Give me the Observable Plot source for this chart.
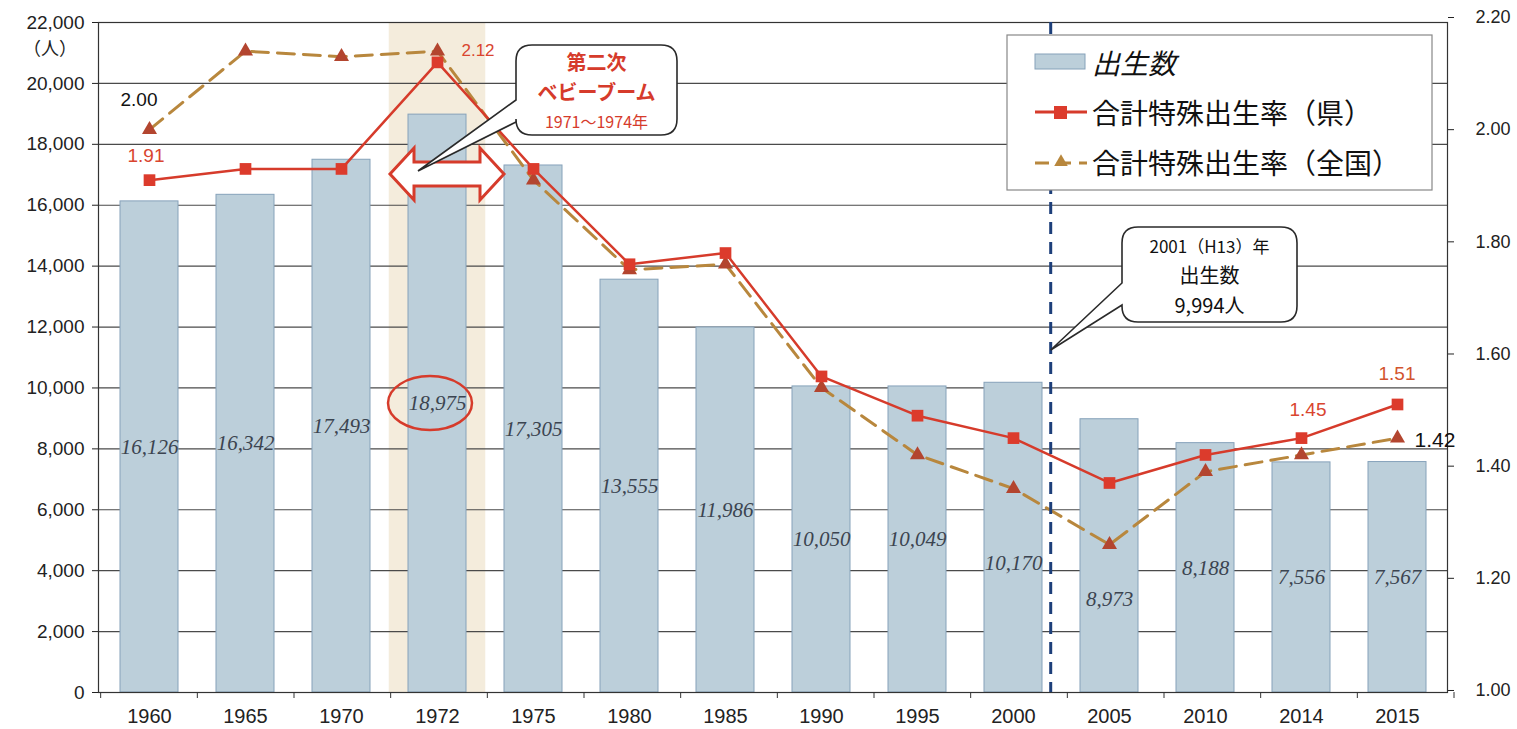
<!DOCTYPE html>
<html><head><meta charset="utf-8">
<script src="https://cdn.jsdelivr.net/npm/d3@7"></script>
<script src="https://cdn.jsdelivr.net/npm/@observablehq/plot@0.6"></script>
<style>
body{margin:0;background:#fff;}
#wrap{position:relative;width:1517px;height:729px;}
</style></head><body><div id="wrap"></div>
<script>
// ---- data ----
const years = ["1960","1965","1970","1972","1975","1980","1985","1990","1995","2000","2005","2010","2014","2015"];
const births = [16126,16342,17493,18975,17305,13555,11986,10050,10049,10170,8973,8188,7556,7567];
const ratePref = [1.91,1.93,1.93,2.12,1.93,1.76,1.78,1.56,1.49,1.45,1.37,1.42,1.45,1.51];
const rateNation = [2.00,2.14,2.13,2.14,1.91,1.75,1.76,1.54,1.42,1.36,1.26,1.39,1.42,1.45];
const leftTicks = [0,2000,4000,6000,8000,10000,12000,14000,16000,18000,20000,22000];
const rightTicks = [1.00,1.20,1.40,1.60,1.80,2.00,2.20];
const legendLabels = ["出生数","合計特殊出生率（県）","合計特殊出生率（全国）"];
const boomLines = ["第二次","ベビーブーム","1971〜1974年"];
const note2001 = ["2001（H13）年","出生数","9,994人"];

// ---- layout ----
const W = 1517, H = 729, mL = 98, mR = 70, mT = 22, mB = 37;
const R0 = 1.0, R1 = 2.2, YMAX = 22000;
// right (rate) axis sits slightly offset from the left axis in the original
const RB = 66, RS = 22098;
const toY = r => RB + (r - R0) / (R1 - R0) * RS;
const fromY = v => (v - RB) / RS * (R1 - R0) + R0;
const step = (W - mL - mR) / years.length;

const data = years.map((y, i) => ({year: y, births: births[i], pref: toY(ratePref[i]), nat: toY(rateNation[i])}));
const labelShift = {"2000": 850, "2005": 1420};

const SANS = "'Liberation Sans', Arial, sans-serif";
const NARROW = "'Liberation Sans Narrow', 'Liberation Sans', Arial, sans-serif";
const CJK = "'Noto Sans CJK JP', 'Noto Sans', sans-serif";
const RED = "#d63b2b", GOLD = "#b8873d", TRI = "#b3452f";

const plot = Plot.plot({
  width: W, height: H, marginLeft: mL, marginRight: mR, marginTop: mT, marginBottom: mB,
  style: {fontFamily: SANS, fontSize: "18px", color: "#222", background: "#fff", overflow: "visible"},
  x: {type: "band", domain: years, paddingInner: 0.4, paddingOuter: 0.2, label: null},
  y: {domain: [0, YMAX], label: null},
  marks: [
    Plot.barY([data[3]], {x: "year", y1: 0, y2: YMAX, fill: "#f4ecdc", insetLeft: -step * 0.2, insetRight: -step * 0.2}),
    Plot.ruleY(leftTicks, {stroke: "#4a4a4a", strokeWidth: 1.2}),
    Plot.barY(data, {x: "year", y: "births", fill: "#bccfda", stroke: "#86a2ba", strokeWidth: 1}),
    Plot.text(data, {x: "year", y: d => d.births / 2 - (labelShift[d.year] || 0), text: d => d3.format(",")(d.births),
      fontFamily: "'Liberation Serif', 'DejaVu Serif', serif", fontStyle: "italic", fontSize: 21, fill: "#3b4450"}),
    Plot.line(data, {x: "year", y: "nat", stroke: GOLD, strokeWidth: 3, strokeDasharray: "17,9"}),
    Plot.dot(data, {x: "year", y: "nat", symbol: "triangle", r: 5.6, fill: TRI}),
    Plot.line(data, {x: "year", y: "pref", stroke: RED, strokeWidth: 2.5}),
    Plot.dot(data, {x: "year", y: "pref", symbol: "square", r: 6.6, fill: "#dc3b2c"}),
    Plot.axisY({ticks: leftTicks, tickFormat: d3.format(","), tickSize: 6, tickPadding: 8, fontSize: 19, label: null, anchor: "left"}),
    Plot.axisY({ticks: rightTicks.map(toY), tickFormat: d => fromY(d).toFixed(2), anchor: "right", tickSize: 6, tickPadding: 22, fontSize: 18, label: null}),
    Plot.axisX({tickSize: 0, tickPadding: 16, fontSize: 20, fontFamily: NARROW, label: null}),
    Plot.frame({stroke: "#333", strokeWidth: 1.2})
  ]
});
document.getElementById("wrap").appendChild(plot);

// ---- annotations ----
const svg = d3.select(plot);
const xs = plot.scale("x"), ys = plot.scale("y");
const bw = xs.bandwidth, st = bw / 0.6;
const cx = k => xs.apply(k) + bw / 2;
const py = v => ys.apply(v);
const g = svg.append("g").attr("text-anchor", "start");

// band boundary ticks on x axis
for (let i = 0; i <= years.length; i++) {
  const x = xs.apply(years[0]) - st * 0.2 + i * st;
  g.append("line").attr("x1", x).attr("x2", x).attr("y1", py(0)).attr("y2", py(0) + 6).attr("stroke", "#333");
}

// 2001 dashed line
const xLine = cx("2000") + st * 0.39;
g.append("line").attr("x1", xLine).attr("x2", xLine).attr("y1", py(YMAX)).attr("y2", py(0))
  .attr("stroke", "#1d3f7a").attr("stroke-width", 3).attr("stroke-dasharray", "12,8");

// unit
g.append("text").attr("x", 50).attr("y", 47).attr("text-anchor", "middle").attr("dominant-baseline", "central")
  .attr("font-family", CJK).attr("font-size", 18).attr("fill", "#222").text("（人）");

// value labels on lines
const vlab = (x, y, t, col, size) => g.append("text").attr("x", x).attr("y", y).attr("text-anchor", "middle")
  .attr("dominant-baseline", "central").attr("font-family", SANS).attr("font-size", size).attr("fill", col).text(t);
vlab(cx("1960") - 10, py(toY(rateNation[0])) - 30, "2.00", "#111", 19);
vlab(cx("1960") - 3, py(toY(ratePref[0])) - 24, "1.91", "#d9452f", 19);
vlab(cx("1972") + 41, py(toY(ratePref[3])) - 11, "2.12", "#d9452f", 17);
vlab(cx("2014") + 7, py(toY(ratePref[12])) - 28, "1.45", "#d9452f", 19);
vlab(cx("2015"), py(toY(ratePref[13])) - 30, "1.51", "#d2542e", 19);
vlab(cx("2015") + 38, py(toY(rateNation[13])) + 2, "1.42", "#111", 21);

// double arrow 1972
{
  const c = cx("1972") + 10, y0 = 174, hl = 57, hh = 26, sh = 12, hd = 24;
  const pts = [[c - hl, y0], [c - hl + hd, y0 - hh], [c - hl + hd, y0 - sh], [c + hl - hd, y0 - sh], [c + hl - hd, y0 - hh],
    [c + hl, y0], [c + hl - hd, y0 + hh], [c + hl - hd, y0 + sh], [c - hl + hd, y0 + sh], [c - hl + hd, y0 + hh]];
  g.append("path").attr("d", "M" + pts.map(p => p.join(",")).join("L") + "Z")
    .attr("fill", "#fff").attr("stroke", "#d63b2b").attr("stroke-width", 3).attr("stroke-linejoin", "miter");
}

// ellipse around 18,975
g.append("ellipse").attr("cx", cx("1972") - 7).attr("cy", py(births[3] / 2)).attr("rx", 42).attr("ry", 27)
  .attr("fill", "none").attr("stroke", "#d63b2b").attr("stroke-width", 2.5);

// callout helper
function callout(x0, y0, x1, y1, r, pa, pb, tip) {
  const d = `M${x0 + r},${y0} L${x1 - r},${y0} Q${x1},${y0} ${x1},${y0 + r} L${x1},${y1 - r} Q${x1},${y1} ${x1 - r},${y1}
    L${x0 + r},${y1} Q${x0},${y1} ${x0},${y1 - r} L${x0},${pb} L${tip[0]},${tip[1]} L${x0},${pa} L${x0},${y0 + r} Q${x0},${y0} ${x0 + r},${y0} Z`;
  g.append("path").attr("d", d).attr("fill", "#fff").attr("stroke", "#2a2a2a").attr("stroke-width", 1.6);
}
callout(516, 45, 677, 135, 16, 100, 122, [418, 171]);
const bx = (516 + 677) / 2;
[[boomLines[0], 61, 20, 700], [boomLines[1], 91, 20, 700], [boomLines[2], 121, 16, 400]].forEach(([t, y, s, w]) =>
  g.append("text").attr("x", bx).attr("y", y).attr("text-anchor", "middle").attr("dominant-baseline", "central")
    .attr("font-family", CJK).attr("font-size", s).attr("font-weight", w).attr("fill", "#d63b2b").text(t));

callout(1122, 227, 1297, 322, 16, 283, 305, [xLine, 350]);
const bx2 = (1122 + 1297) / 2;
[[note2001[0], 245, 17], [note2001[1], 274, 20], [note2001[2], 304, 20]].forEach(([t, y, s]) =>
  g.append("text").attr("x", bx2).attr("y", y).attr("text-anchor", "middle").attr("dominant-baseline", "central")
    .attr("font-family", CJK).attr("font-size", s).attr("fill", "#111").text(t));

// legend
const lg = g.append("g");
lg.append("rect").attr("x", 1007).attr("y", 35).attr("width", 425).attr("height", 155).attr("fill", "#fff").attr("stroke", "#888").attr("stroke-width", 1.2);
lg.append("rect").attr("x", 1035).attr("y", 54).attr("width", 50).attr("height", 15).attr("fill", "#bccfda").attr("stroke", "#86a2ba");
lg.append("line").attr("x1", 1035).attr("x2", 1087).attr("y1", 112).attr("y2", 112).attr("stroke", RED).attr("stroke-width", 3);
lg.append("rect").attr("x", 1054).attr("y", 106).attr("width", 13).attr("height", 13).attr("fill", "#dc3b2c");
lg.append("line").attr("x1", 1035).attr("x2", 1087).attr("y1", 163).attr("y2", 163).attr("stroke", GOLD).attr("stroke-width", 3).attr("stroke-dasharray", "14,8");
lg.append("path").attr("d", d3.symbol(d3.symbolTriangle, 80)()).attr("transform", "translate(1061,162)").attr("fill", GOLD);
[[legendLabels[0], 62, "italic"], [legendLabels[1], 112, "normal"], [legendLabels[2], 162, "normal"]].forEach(([t, y, fs]) =>
  lg.append("text").attr("x", 1092).attr("y", y).attr("text-anchor", "start").attr("dominant-baseline", "central").attr("font-family", CJK)
    .attr("font-size", 28).attr("font-style", fs).attr("fill", "#111").text(t));
</script>
</body></html>
